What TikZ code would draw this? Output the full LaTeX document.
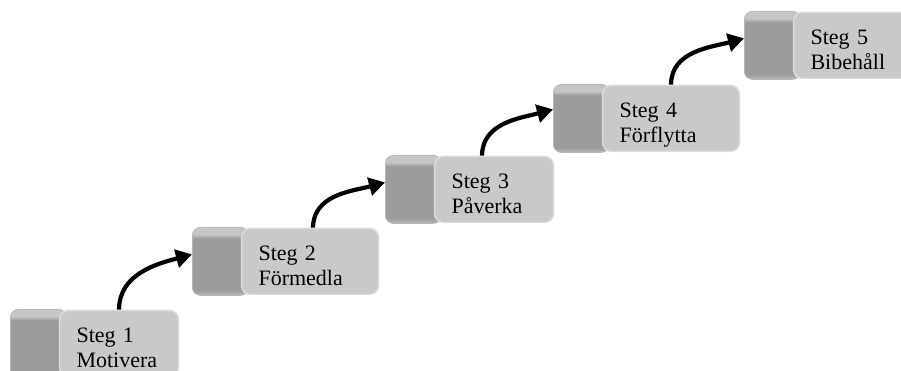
\documentclass[tikz,border=0pt]{standalone}
\usepackage{fontspec}
\setmainfont{Liberation Serif}
\usepackage{tikz}
\usetikzlibrary{positioning,arrows.meta}

\definecolor{tabgray}{HTML}{9C9C9C}
\definecolor{rimgray}{HTML}{C6C6C6}
\definecolor{lowrim}{HTML}{B8B8B8}
\definecolor{facegray}{HTML}{C9C9C9}
\definecolor{edgegray}{HTML}{DCDCDC}

\pgfdeclareverticalshading{tabshade}{100bp}{color(0bp)=(lowrim); color(25bp)=(lowrim); color(29bp)=(tabgray); color(67bp)=(tabgray); color(70bp)=(rimgray); color(100bp)=(rimgray)}

\hyphenpenalty=10000
\tikzset{every node/.style={font=\fontsize{22}{25}\selectfont}}

\begin{document}
\begin{tikzpicture}[
  x=1pt, y=-1pt,
  steptab/.style={
    draw=lowrim, line width=0.8pt,
    shade, shading=tabshade,
    rounded corners=8pt,
    anchor=north west,
    minimum width=56pt,
    minimum height=68pt,
    inner sep=0pt
  },
  steplabel/.style={
    fill=facegray, draw=edgegray, line width=1.5pt,
    rounded corners=9pt,
    align=left,
    text width=#1,
    inner xsep=17pt, inner ysep=0pt,
    text height=32pt, text depth=34pt
  },
  steparrow/.style={
    line width=4.2pt,
    -{Triangle[length=16pt,width=18pt]}
  }
]

\useasboundingbox (0,0) rectangle (901,371);

\node (tab1) [steptab] at (10,309) {};
\node (step1) [steplabel=85pt, right=-8pt of tab1] {Steg 1\\Motivera};

\node (tab2) [steptab] at (192,227) {};
\node (step2) [steplabel=103pt, right=-8pt of tab2] {Steg 2\\Förmedla};

\node (tab3) [steptab] at (385,155) {};
\node (step3) [steplabel=85pt, right=-8pt of tab3] {Steg 3\\Påverka};

\node (tab4) [steptab] at (553,84) {};
\node (step4) [steplabel=103pt, right=-8pt of tab4] {Steg 4\\Förflytta};

\node (tab5) [steptab] at (744,11) {};
\node (step5) [steplabel=85pt, right=-8pt of tab5] {Steg 5\\Bibehåll};

\draw [steparrow] (step1.north) to[out=90,in=195] ([yshift=7pt]tab2.west);
\draw [steparrow] ([xshift=3pt]step2.north) to[out=90,in=195] ([yshift=7pt]tab3.west);
\draw [steparrow] ([xshift=-12pt]step3.north) to[out=90,in=195] ([yshift=9pt]tab4.west);
\draw [steparrow] (step4.north) to[out=90,in=195] ([yshift=7pt]tab5.west);

\end{tikzpicture}
\end{document}
